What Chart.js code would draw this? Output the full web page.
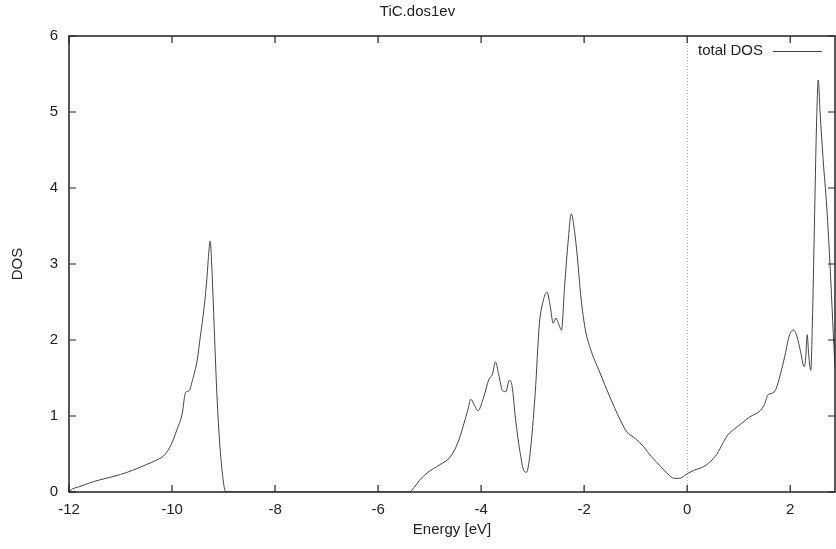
<!DOCTYPE html>
<html>
<head>
<meta charset="utf-8">
<script src="https://cdn.jsdelivr.net/npm/chart.js@4.4.1/dist/chart.umd.min.js"></script>
<style>
  html, body { margin: 0; padding: 0; background: #fff; }
  #wrap { width: 836px; height: 549px; }
</style>
</head>
<body>
<div id="wrap"><canvas id="dosChart"></canvas></div>
<script>
// total DOS of TiC
const energy = [
  -12.0, -11.93, -11.8, -11.6, -11.4, -11.0, -10.75, -10.5, -10.3, -10.17,
  -10.05, -9.98, -9.9, -9.8, -9.75, -9.72, -9.67, -9.6, -9.51, -9.45,
  -9.4, -9.33, -9.28, -9.26, -9.23, -9.2, -9.13, -9.07, -9.0, -8.96,
  -5.4, -5.3, -5.2, -5.05, -4.8, -4.6, -4.45, -4.35, -4.25, -4.2,
  -4.15, -4.06, -3.95, -3.85, -3.78, -3.72, -3.66, -3.58, -3.52, -3.45,
  -3.4, -3.33, -3.25, -3.17, -3.12, -3.05, -2.95, -2.87, -2.8, -2.72,
  -2.66, -2.6, -2.55, -2.49, -2.44, -2.38, -2.31, -2.25, -2.2, -2.14,
  -2.06, -1.98, -1.88, -1.7, -1.5, -1.3, -1.18, -1.0, -0.85, -0.7,
  -0.52, -0.38, -0.25, -0.15, 0.0, 0.15, 0.31, 0.45, 0.58, 0.7,
  0.8, 0.9, 1.05, 1.22, 1.4, 1.5, 1.57, 1.65, 1.72, 1.81,
  1.9, 1.98, 2.06, 2.13, 2.2, 2.27, 2.3, 2.33, 2.36, 2.4,
  2.43, 2.47, 2.51, 2.545, 2.58, 2.64, 2.71, 2.78, 2.87, 2.95
];
const dos = [
  0.0, 0.04, 0.07, 0.12, 0.16, 0.23, 0.29, 0.36, 0.42, 0.47,
  0.58, 0.68, 0.83, 1.04, 1.28, 1.32, 1.33, 1.48, 1.74, 2.05,
  2.3, 2.75, 3.2, 3.3, 3.0, 2.5, 1.3, 0.6, 0.12, 0.0,
  0.0, 0.06, 0.15, 0.25, 0.36, 0.46, 0.65, 0.86, 1.1, 1.22,
  1.17, 1.07, 1.25, 1.48, 1.55, 1.71, 1.55, 1.33, 1.32, 1.47,
  1.4, 0.95, 0.55, 0.28, 0.26, 0.5, 1.3, 2.2, 2.5, 2.63,
  2.45, 2.22, 2.29, 2.2, 2.13, 2.7, 3.3, 3.66, 3.5, 3.15,
  2.55, 2.15, 1.89, 1.58, 1.25, 0.95, 0.8, 0.7, 0.6, 0.47,
  0.34, 0.24, 0.18, 0.18, 0.24, 0.29, 0.33, 0.4, 0.5, 0.65,
  0.76, 0.82, 0.9, 0.99, 1.06, 1.15, 1.28, 1.3, 1.35, 1.55,
  1.8, 2.05, 2.13, 2.05, 1.85, 1.65, 1.75, 2.07, 1.8, 1.6,
  2.2, 3.5, 4.8, 5.42, 5.0, 4.37, 3.75, 2.9, 1.65, 1.0
];
const xTicks = [-12, -10, -8, -6, -4, -2, 0, 2];
const yTicks = [0, 1, 2, 3, 4, 5, 6];

const fontFamily = '"Liberation Sans", Arial, sans-serif';
const fontSize = 15;
const inkColor = '#222';

// gnuplot-like frame with inward ticks, zero line and key
const gnuplotFrame = {
  id: 'gnuplotFrame',
  beforeDatasetsDraw(chart) {
    const { ctx, chartArea: a, scales: { x } } = chart;
    const x0 = x.getPixelForValue(0);
    ctx.save();
    ctx.strokeStyle = '#aaa';
    ctx.lineWidth = 1;
    ctx.setLineDash([1, 2]);
    ctx.beginPath();
    ctx.moveTo(Math.round(x0) + 0.5, a.top);
    ctx.lineTo(Math.round(x0) + 0.5, a.bottom);
    ctx.stroke();
    ctx.restore();
  },
  afterDraw(chart) {
    const { ctx, chartArea: a, scales: { x, y } } = chart;
    const t = 7;
    ctx.save();
    ctx.strokeStyle = '#222';
    ctx.lineWidth = 1.5;
    ctx.strokeRect(a.left, a.top, a.right - a.left, a.bottom - a.top);
    ctx.lineWidth = 1.2;
    ctx.beginPath();
    xTicks.forEach(v => {
      const px = x.getPixelForValue(v);
      ctx.moveTo(px, a.bottom); ctx.lineTo(px, a.bottom - t);
      ctx.moveTo(px, a.top); ctx.lineTo(px, a.top + t);
    });
    yTicks.forEach(v => {
      const py = y.getPixelForValue(v);
      ctx.moveTo(a.left, py); ctx.lineTo(a.left + t, py);
      ctx.moveTo(a.right, py); ctx.lineTo(a.right - t, py);
    });
    ctx.stroke();

    // key
    const label = chart.data.datasets[0].label;
    ctx.font = fontSize + 'px ' + fontFamily;
    ctx.fillStyle = inkColor;
    ctx.textAlign = 'right';
    ctx.textBaseline = 'middle';
    ctx.fillText(label, a.right - 72, a.top + 15);
    ctx.strokeStyle = '#444';
    ctx.lineWidth = 1;
    ctx.beginPath();
    ctx.moveTo(a.right - 62, a.top + 15.5);
    ctx.lineTo(a.right - 13, a.top + 15.5);
    ctx.stroke();
    ctx.restore();
  }
};

const ctx = document.getElementById('dosChart').getContext('2d');

new Chart(ctx, {
  type: 'line',
  data: {
    datasets: [{
      label: 'total DOS',
      data: energy.map((e, i) => ({ x: e, y: dos[i] })),
      borderColor: '#444',
      borderWidth: 1,
      pointRadius: 0,
      fill: false,
      cubicInterpolationMode: 'monotone'
    }]
  },
  options: {
    responsive: true,
    maintainAspectRatio: false,
    animation: false,
    layout: { padding: { left: 0, right: 1, top: 0, bottom: 0 } },
    plugins: {
      legend: { display: false },
      tooltip: { enabled: false },
      title: {
        display: true,
        text: 'TiC.dos1ev',
        color: inkColor,
        font: { family: fontFamily, size: fontSize, weight: 'normal' },
        padding: { top: 3, bottom: 15 }
      }
    },
    scales: {
      x: {
        type: 'linear',
        min: -12,
        max: 2.87,
        afterBuildTicks: scale => { scale.ticks = xTicks.map(v => ({ value: v })); },
        afterFit: scale => { scale.height = 57; },
        grid: { display: false, drawTicks: false },
        border: { display: false },
        ticks: {
          color: inkColor,
          padding: 9,
          font: { family: fontFamily, size: fontSize }
        },
        title: {
          display: true,
          text: 'Energy [eV]',
          color: inkColor,
          font: { family: fontFamily, size: fontSize },
          padding: { top: 10, bottom: 10 }
        }
      },
      y: {
        min: 0,
        max: 6,
        afterBuildTicks: scale => { scale.ticks = yTicks.map(v => ({ value: v })); },
        afterFit: scale => { scale.width = 69; },
        grid: { display: false, drawTicks: false },
        border: { display: false },
        ticks: {
          color: inkColor,
          padding: 11,
          font: { family: fontFamily, size: fontSize }
        },
        title: {
          display: true,
          text: 'DOS',
          color: inkColor,
          font: { family: fontFamily, size: fontSize },
          padding: { top: 9, bottom: 9 }
        }
      }
    }
  },
  plugins: [gnuplotFrame]
});
</script>
</body>
</html>
